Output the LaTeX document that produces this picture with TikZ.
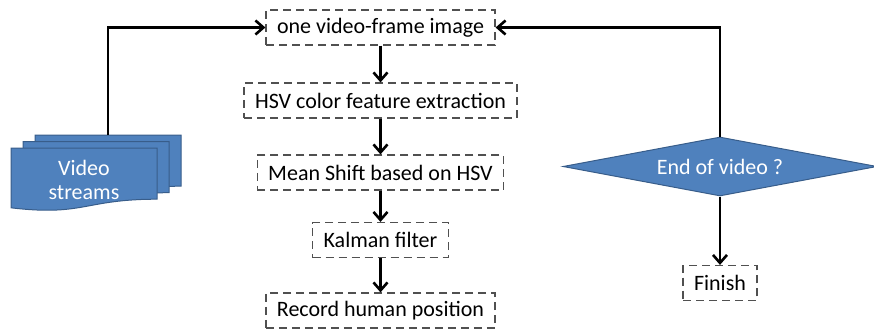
\documentclass[tikz,border=0pt]{standalone}
\usepackage{fontspec}
\setmainfont{Carlito}
\usetikzlibrary{arrows.meta,shapes.geometric}
\definecolor{TrkBlue}{RGB}{79,129,189}
\definecolor{TrkBlueEdge}{RGB}{56,93,138}
\definecolor{TrkDash}{RGB}{80,80,80}
\tikzset{
  trk/box/.style={
    draw=TrkDash,
    line width=0.6pt,
    dash pattern=on 4pt off 2.5pt,
    fill=white,
    align=center,
    text=black,
    minimum height=17.5pt,
    inner xsep=5.5pt,
    inner ysep=2pt,
    font=\fontsize{11}{12}\selectfont
  },
  trk/decision/.style={
    diamond,
    draw=TrkBlueEdge,
    line width=0.5pt,
    fill=TrkBlue,
    text=white,
    inner sep=0pt,
    aspect=5.4,
    minimum width=157pt,
    minimum height=29.5pt,
    font=\fontsize{11}{12}\selectfont
  },
  trk/sheet/.style={draw=TrkBlueEdge, line width=0.5pt, fill=TrkBlue},
  trk/doctext/.style={text=white, align=center, font=\fontsize{11}{12}\selectfont},
  trk/arrow/.style={-{Straight Barb[length=4pt,width=7pt]}, line width=1.3pt, draw=black}
}
\begin{document}
\begin{tikzpicture}[x=0.5pt,y=-0.5pt]
  \useasboundingbox (0,0) rectangle (874,333);
  % processing chain
  \node[trk/box] (frame) at (380.5,27.5) {one video-frame image};
  \node[trk/box] (hsv) at (380.5,100.5) {HSV color feature extraction};
  \node[trk/box] (meanshift) at (380.5,172.5) {Mean Shift based on HSV};
  \node[trk/box] (kalman) at (380.5,240) {Kalman filter};
  \node[trk/box] (record) at (380.5,310.5) {Record human position};
  \draw[trk/arrow] (frame) -- (hsv);
  \draw[trk/arrow] (hsv) -- (meanshift);
  \draw[trk/arrow] (meanshift) -- (kalman);
  \draw[trk/arrow] (kalman) -- (record);
  % stacked documents for the input
  \foreach \dx/\dy in {35/135,23/141.5,11/148}
    \filldraw[trk/sheet,shift={(\dx,\dy)}] (0,0) -- (146,0) -- (146,51.2)
      .. controls (73,51.2) and (73,68.5) .. (0,59.8) -- cycle;
  \node[trk/doctext] (streams) at (84,180) {Video\\streams};
  \coordinate (streamtop) at (108,135);
  \draw[trk/arrow] (streamtop) |- (frame.west);
  % loop test
  \node[trk/decision] (endq) at (720,166.5) {End of video ?};
  \node[trk/box] (finish) at (720,283) {Finish};
  \draw[trk/arrow] (endq.north) |- (frame.east);
  \draw[trk/arrow] (endq) -- (finish);
\end{tikzpicture}
\end{document}
